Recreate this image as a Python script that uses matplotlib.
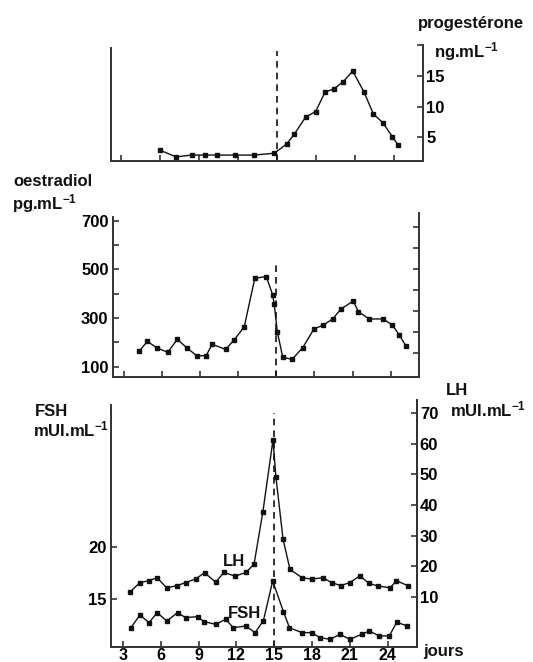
import matplotlib
matplotlib.use("Agg")
import matplotlib.pyplot as plt

plt.rcParams["font.family"] = ["Liberation Sans", "DejaVu Sans"]
plt.rcParams["font.weight"] = "bold"
plt.rcParams["mathtext.fontset"] = "custom"
plt.rcParams["mathtext.rm"] = "Liberation Sans:bold"
plt.rcParams["mathtext.it"] = "Liberation Sans:bold"
plt.rcParams["mathtext.bf"] = "Liberation Sans:bold"

# progesterone (ng/mL)
prog_days = [6.0, 7.23, 8.44, 9.46, 10.36, 11.77, 13.23, 14.8, 15.74, 16.33, 17.2,
             17.97, 18.7, 19.38, 20.1, 20.82, 21.69, 22.41, 23.13, 23.87, 24.33]
prog_vals = [2.9, 1.8, 2.1, 2.1, 2.1, 2.1, 2.1, 2.4, 3.9, 5.5, 8.3,
             9.2, 12.4, 12.9, 14.1, 15.8, 12.4, 8.8, 7.4, 5.1, 3.7]

# oestradiol (pg/mL)
oes_days = [4.2, 4.84, 5.57, 6.44, 7.2, 7.94, 8.72, 9.46, 9.95, 11.0, 11.69, 12.47,
            13.3, 14.2, 14.7, 14.83, 15.07, 15.5, 16.23, 17.07, 17.96, 18.7, 19.43,
            20.09, 21.06, 21.45, 22.3, 23.4, 24.13, 24.68, 25.2]
oes_vals = [164, 204, 178, 159, 212, 178, 145, 145, 192, 171, 211, 264,
            463, 470, 396, 357, 244, 139, 130, 178, 255, 271, 296,
            337, 370, 326, 296, 296, 271, 230, 185]

# LH (mUI/mL, right axis)
lh_days = [3.55, 4.35, 5.06, 5.7, 6.47, 7.3, 7.97, 8.77, 9.48, 10.36, 11.0, 11.9,
           12.76, 13.4, 14.1, 14.9, 15.14, 15.7, 16.25, 17.2, 17.97, 18.84, 19.56,
           20.27, 21.0, 21.8, 22.5, 23.2, 24.2, 24.7, 25.6]
lh_vals = [11.6, 14.7, 15.3, 16.3, 13.0, 13.7, 14.7, 15.9, 17.9, 14.8, 18.0, 16.8,
           18.0, 20.7, 37.7, 61.1, 49.0, 28.9, 19.0, 16.3, 15.8, 16.3, 14.7,
           13.7, 14.7, 16.9, 14.5, 13.6, 13.0, 15.3, 13.7]

# FSH (mUI/mL, left axis)
fsh_days = [3.63, 4.35, 5.06, 5.72, 6.47, 7.34, 7.97, 8.92, 9.43, 10.36, 11.15,
            11.75, 12.76, 13.48, 14.14, 14.88, 15.73, 16.21, 17.2, 17.97, 18.63,
            19.43, 20.22, 21.0, 21.94, 22.54, 23.34, 24.13, 24.72, 25.56]
fsh_vals = [12.24, 13.46, 12.72, 13.68, 12.88, 13.68, 13.2, 13.3, 12.82, 12.56, 13.05,
            12.24, 12.4, 11.76, 12.9, 16.73, 13.78, 12.24, 11.76, 11.76, 11.28,
            11.12, 11.6, 11.12, 11.6, 11.92, 11.44, 11.44, 12.76, 12.4]

day_ticks = [3, 6, 9, 12, 15, 18, 21, 24]
ovulation_day = 15

W, H = 533, 662
FS = 12
INK = "#111111"
SPINE = "#333333"


def px_axes(fig, left, right, top, bottom):
    return fig.add_axes([left / W, 1 - bottom / H, (right - left) / W, (bottom - top) / H])


def style(ax):
    ax.spines["top"].set_visible(False)
    for s in ("left", "right", "bottom"):
        ax.spines[s].set_linewidth(1.4)
        ax.spines[s].set_color(SPINE)
    ax.tick_params(direction="in", length=4, width=1.2, color=SPINE,
                   labelsize=FS, pad=3)


def fig_text(x, y, s, **kw):
    fig.text(x / W, 1 - y / H, s, fontsize=FS, fontweight="bold", color=INK,
             va="baseline", ha="left", **kw)


fig = plt.figure(figsize=(W / 100, H / 100), dpi=100)

line_kw = dict(color=INK, lw=1.0, marker="s", markersize=3.2)
dash_kw = dict(color=INK, lw=1.2, ls=(0, (4, 3)))

# ---- top panel: progesterone
ax1 = px_axes(fig, 110.7, 423.3, 45, 160.7)
style(ax1)
ax1.plot(prog_days, prog_vals, **line_kw)
ax1.set_xlim(2.21, 26.25)
ax1.set_ylim(1.18, 20.06)
ax1.spines["left"].set_bounds(1.18, 19.5)
ax1.set_xticks(day_ticks)
ax1.set_xticklabels([])
ax1.yaxis.tick_right()
ax1.set_yticks([5, 10, 15, 20])
ax1.set_yticklabels(["5", "10", "15", ""])
ax1.tick_params(axis="y", pad=2)
ax1.plot([ovulation_day, ovulation_day], [1.18, 19.0], **dash_kw)

fig_text(418, 28, "progestérone")
fig_text(434, 57, "ng.mL$^{-1}$")

# ---- middle panel: oestradiol
ax2 = px_axes(fig, 112.7, 419, 213, 377)
style(ax2)
ax2.plot(oes_days, oes_vals, **line_kw)
ax2.set_xlim(2.11, 26.23)
ax2.set_ylim(57.7, 731)
ax2.spines["left"].set_bounds(57.7, 714)
ax2.set_xticks(day_ticks)
ax2.set_xticklabels([])
ax2.set_yticks(range(100, 800, 100))
ax2.set_yticklabels(["100", "", "300", "", "500", "", "700"])
ax2.plot([ovulation_day, ovulation_day], [57.7, 524], **dash_kw)
ax2r = ax2.twinx()
ax2r.set_ylim(-0.15, 7.65)
ax2r.set_yticks(range(1, 8))
ax2r.set_yticklabels([])
for s in ax2r.spines.values():
    s.set_visible(False)
ax2r.tick_params(axis="y", direction="in", length=4, width=1.2, color=SPINE)

fig_text(13, 186.5, "oestradiol")
fig_text(12, 209, "pg.mL$^{-1}$")

# ---- bottom panel: FSH (left) and LH (right)
ax3 = px_axes(fig, 111, 417, 400, 647)
style(ax3)
ax3.plot(fsh_days, fsh_vals, **line_kw)
ax3.set_xlim(2.05, 26.33)
ax3.set_ylim(10.38, 34.13)
ax3.spines["left"].set_bounds(10.38, 33.65)
ax3.set_xticks(day_ticks)
ax3.set_yticks([15, 20])
ax3.tick_params(axis="x", pad=0.5, labelsize=11.5)
ax3.plot([ovulation_day, ovulation_day], [10.38, 32.9], **dash_kw)

ax3r = ax3.twinx()
ax3r.spines["top"].set_visible(False)
ax3r.spines["left"].set_visible(False)
ax3r.spines["bottom"].set_visible(False)
ax3r.spines["right"].set_linewidth(1.4)
ax3r.spines["right"].set_color(SPINE)
ax3r.plot(lh_days, lh_vals, **line_kw)
ax3r.set_ylim(-6.3, 74.2)
ax3r.set_yticks(range(10, 80, 10))
ax3r.tick_params(axis="y", direction="in", length=4, width=1.2, color=SPINE,
                 labelsize=FS, pad=2)

fig_text(35, 416.5, "FSH")
fig_text(33, 436, "mUI.mL$^{-1}$")
fig_text(446, 395, "LH")
fig_text(450, 416.5, "mUI.mL$^{-1}$")
fig_text(223, 566.5, "LH")
fig_text(228, 618, "FSH")
fig_text(423, 656, "jours")

fig.savefig("out.png", dpi=100)
